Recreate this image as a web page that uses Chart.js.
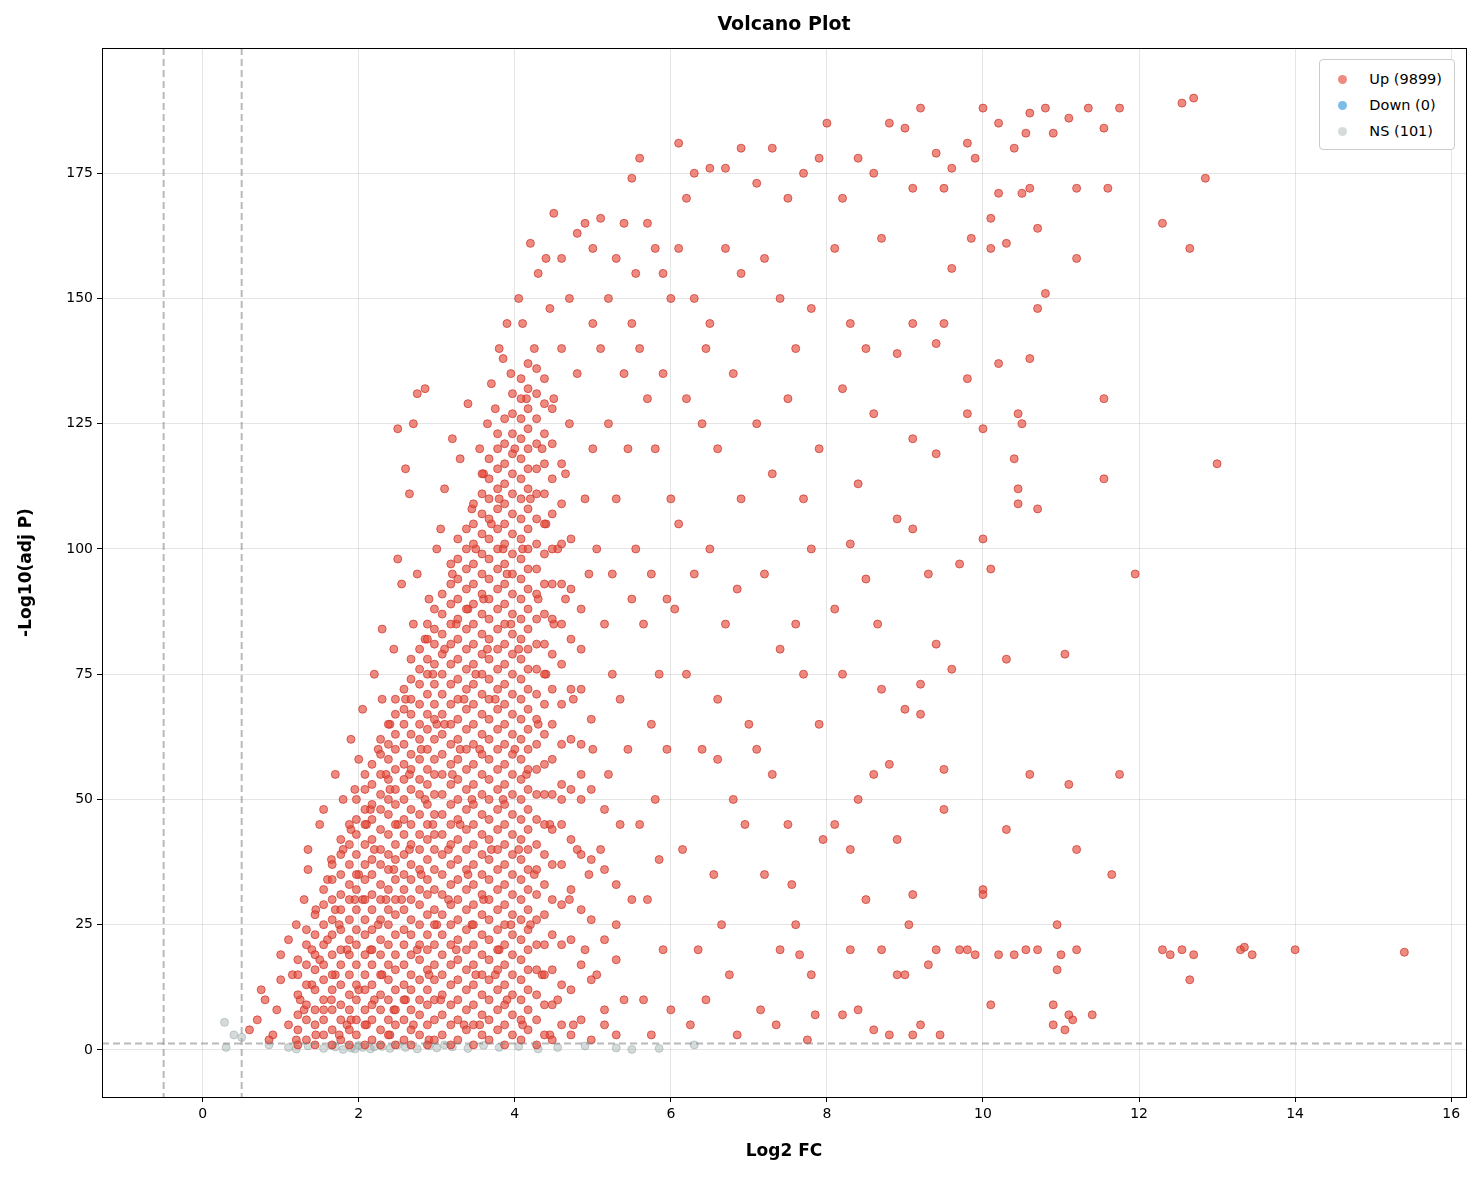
<!DOCTYPE html>
<html>
<head>
<meta charset="utf-8">
<script src="https://cdn.jsdelivr.net/npm/chart.js@4"></script>
<style>
  body { margin: 0; background: #fff; font-family: "DejaVu Sans", sans-serif; }
  #wrap { position: relative; width: 1481px; height: 1180px; }
  #title { position: absolute; top: 12px; left: 102px; width: 1364px; text-align: center; font-weight: bold; font-size: 19px; }
  #legend { position: absolute; top: 59px; right: 26px; background: #fff; border: 1px solid #ccc; border-radius: 4px; padding: 6px 12px 5px 10px; font-size: 14.5px; }
  #legend div { height: 26px; line-height: 26px; }
  #legend span { display: inline-block; width: 9px; height: 9px; border-radius: 50%; margin: 0 22px 0 8px; }
</style>
</head>
<body>
<div id="wrap">
  <canvas id="myChart" width="1481" height="1180"></canvas>
  <div id="title">Volcano Plot</div>
  <div id="legend">
    <div><span style="background:rgba(231,76,60,0.65)"></span>Up (9899)</div>
    <div><span style="background:rgba(52,152,219,0.65)"></span>Down (0)</div>
    <div><span style="background:rgba(149,165,166,0.4)"></span>NS (101)</div>
  </div>
</div>
<script>
// data (a sample of the points)
var upPoints = [
 [0.6,4],[0.7,6],[0.8,10],[0.9,3],[1.0,14],[0.95,8],[0.85,2],[1.0,19],[0.75,12],
 [1.1,5],[1.15,15],[1.2,25],[1.25,10],[1.3,30],[1.35,36],[1.4,20],[1.45,3],[1.5,45],[1.2,2],[1.3,8],[1.4,13],[1.1,22],[1.45,28],[1.5,18],[1.35,40],
 [1.55,48],[1.6,34],[1.65,10],[1.7,55],[1.75,25],[1.8,40],[1.85,5],[1.9,62],[1.95,30],[2.0,58],[1.6,22],[1.7,15],[1.8,50],[1.9,44],[2.0,12],[1.65,38],[1.75,3],[1.85,20],[1.95,52],[2.0,35],[1.55,8],[1.7,28],[1.9,6],
 [2.05,68],[2.1,45],[2.15,20],[2.2,75],[2.25,60],[2.3,84],[2.35,30],[2.4,52],[2.45,8],[2.5,124],[2.5,98],[2.55,93],[2.1,5],[2.2,40],[2.3,15],[2.4,65],[2.45,36],[2.2,10],[2.35,55],[2.15,48],[2.25,25],[2.4,3],[2.05,30],[2.3,70],[2.45,80],[2.5,45],
 [2.6,116],[2.65,111],[2.7,125],[2.75,131],[2.85,132],[2.6,70],[2.7,85],[2.8,60],[2.9,90],[3.0,100],[2.65,40],[2.75,20],[2.85,50],[2.95,75],[2.55,30],[2.6,10],[2.7,5],[2.8,35],[2.9,15],[3.0,65],[2.95,45],[2.85,82],[2.75,95],[2.65,55],[3.0,25],[2.9,2],
 [3.05,104],[3.1,112],[3.2,122],[3.3,118],[3.4,129],[3.45,108],[3.1,80],[3.2,95],[3.3,60],[3.4,88],[3.5,100],[3.15,40],[3.25,20],[3.35,70],[3.45,50],[3.05,10],[3.15,30],[3.25,85],[3.35,5],[3.5,75],[3.4,35],[3.3,45],[3.2,55],[3.1,65],[3.5,15],[3.45,25],
 [3.55,120],[3.6,115],[3.65,125],[3.7,133],[3.75,128],[3.8,140],[3.85,138],[3.9,145],[3.95,135],[3.6,90],[3.7,105],[3.8,110],[3.9,95],[3.55,60],[3.65,80],[3.75,70],[3.85,50],[3.95,85],[3.6,30],[3.7,40],[3.8,20],[3.9,10],[4.0,120],[4.0,60],[3.55,5],[3.75,15],[3.95,25],[3.85,100],
 [4.05,150],[4.1,145],[4.2,161],[4.3,155],[4.4,158],[4.5,167],[4.15,130],[4.25,140],[4.35,120],[4.45,148],[4.1,100],[4.2,110],[4.3,90],[4.4,75],[4.5,130],[4.05,80],[4.15,55],[4.25,35],[4.35,15],[4.45,45],[4.1,5],[4.2,25],[4.3,65],[4.4,105],[4.5,85],[4.05,40],[4.45,3],
 [4.6,158],[4.7,150],[4.8,163],[4.9,165],[5.0,160],[4.6,140],[4.7,125],[4.8,135],[4.9,110],[5.0,145],[4.55,100],[4.65,90],[4.75,70],[4.85,80],[4.95,95],[4.6,50],[4.7,30],[4.8,40],[4.9,20],[5.0,60],[4.55,10],[4.75,5],[4.85,55],[4.95,35],[5.0,120],[4.65,115],
 [5.1,166],[5.2,150],[5.3,158],[5.4,165],[5.5,174],[5.1,140],[5.2,125],[5.3,110],[5.4,135],[5.5,145],[5.05,100],[5.15,85],[5.25,95],[5.35,70],[5.45,60],[5.1,40],[5.2,55],[5.3,25],[5.4,10],[5.5,30],[5.15,5],[5.25,75],[5.35,45],[5.45,120],[5.5,90],[5.05,15],
 [5.6,178],[5.7,165],[5.8,160],[5.9,155],[6.0,150],[5.6,140],[5.7,130],[5.8,120],[5.9,135],[6.0,110],[5.55,100],[5.65,85],[5.75,95],[5.85,75],[5.95,60],[5.6,45],[5.7,30],[5.8,50],[5.9,20],[6.0,8],[5.65,10],[5.75,65],[5.85,38],[5.95,90],[5.55,155],[5.75,3],
 [6.1,181],[6.2,170],[6.3,175],[6.5,176],[6.7,176],[6.9,180],[6.1,160],[6.3,150],[6.5,145],[6.7,160],[6.9,155],[6.2,130],[6.4,125],[6.6,120],[6.8,135],[6.1,105],[6.3,95],[6.5,100],[6.7,85],[6.9,110],[6.2,75],[6.4,60],[6.6,70],[6.8,50],[6.15,40],[6.35,20],[6.55,35],[6.75,15],[6.95,45],[6.25,5],[6.45,10],[6.65,25],[6.85,3],[6.05,88],[6.45,140],[6.85,92],[6.6,58],[7.0,65],
 [7.1,173],[7.3,180],[7.5,170],[7.7,175],[7.9,178],[7.2,158],[7.4,150],[7.6,140],[7.8,148],[7.1,125],[7.3,115],[7.5,130],[7.7,110],[7.9,120],[7.2,95],[7.4,80],[7.6,85],[7.8,100],[7.1,60],[7.3,55],[7.5,45],[7.7,75],[7.9,65],[7.2,35],[7.4,20],[7.6,25],[7.8,15],[7.15,8],[7.35,5],[7.55,33],[7.75,2],[7.95,42],[7.85,7],[7.65,19],
 [8.0,185],[8.2,170],[8.4,178],[8.6,175],[8.8,185],[8.1,160],[8.3,145],[8.5,140],[8.7,162],[8.9,139],[8.2,132],[8.4,113],[8.6,127],[8.1,88],[8.3,101],[8.5,94],[8.7,72],[8.2,75],[8.4,50],[8.6,55],[8.8,57],[8.1,45],[8.3,40],[8.5,30],[8.7,20],[8.9,15],[8.2,7],[8.4,8],[8.6,4],[8.8,3],[8.3,20],[8.9,42],[8.65,85],[8.9,106],
 [9.0,184],[9.2,188],[9.4,179],[9.6,176],[9.8,181],[10.0,188],[9.1,172],[9.5,172],[9.9,178],[9.1,145],[9.4,141],[9.5,145],[9.8,134],[9.1,122],[9.4,119],[9.8,127],[10.0,124],[9.1,104],[9.3,95],[9.7,97],[10.0,102],[9.2,73],[9.4,81],[9.6,76],[9.0,68],[9.2,67],[9.5,56],[9.5,48],[9.1,31],[9.3,17],[9.4,20],[9.7,20],[9.9,19],[9.0,15],[9.2,5],[9.45,3],[9.8,20],[10.0,32],[9.05,25],[9.1,3],[9.6,156],[9.85,162],
 [10.2,185],[10.4,180],[10.6,187],[10.8,188],[11.1,186],[11.35,188],[11.75,188],[10.2,171],[10.6,172],[11.2,172],[11.6,172],[10.1,166],[10.3,161],[10.7,164],[10.1,160],[11.2,158],[10.8,151],[10.7,148],[10.6,138],[10.2,137],[11.55,130],[10.5,125],[10.45,127],[10.4,118],[11.55,114],[10.45,112],[10.7,108],[10.45,109],[10.1,96],[11.95,95],[11.05,79],[10.3,78],[10.6,55],[11.1,53],[11.75,55],[10.3,44],[11.2,40],[11.65,35],[10.0,31],[10.95,25],[10.2,19],[10.4,19],[10.55,20],[10.7,20],[11.0,19],[11.2,20],[10.95,16],[10.9,9],[10.1,9],[10.9,5],[11.05,4],[11.15,6],[11.4,7],[11.1,7],[10.55,183],[10.9,183],[11.55,184],[10.5,171],
 [12.3,165],[12.55,189],[12.7,190],[12.85,174],[12.65,160],[13.0,117],[12.3,20],[12.4,19],[12.55,20],[12.7,19],[12.65,14],[13.3,20],[13.35,20.5],[13.45,19],[14.0,20],[15.4,19.5]
];
// the solid red wedge, read as columns: [log2 FC, list of -log10 P]
var upDenseCols = [
 [1.22,[1,4,7,11,15,18]],
 [1.33,[2,6,9,13,17,21,24]],
 [1.44,[1,5,8,12,16,19,23,27]],
 [1.55,[3,6,10,14,17,21,25,29,32]],
 [1.66,[1,4,8,12,15,19,23,26,30,34,37]],
 [1.77,[2,6,9,13,17,20,24,28,31,35,39,42]],
 [1.88,[1,4,8,11,15,19,22,26,30,33,37,41,45]],
 [1.97,[3,6,10,13,17,21,24,28,32,35,39,43,46,50]],
 [2.08,[1,5,8,12,15,19,23,26,30,34,37,41,45,48,52,55]],
 [2.17,[2,6,9,13,17,20,24,28,31,35,38,42,46,49,53,57]],
 [2.28,[1,4,8,11,15,19,22,26,30,33,37,40,44,48,51,55,59,62]],
 [2.38,[3,6,10,14,17,21,25,28,32,36,39,43,47,50,54,58,61,65]],
 [2.47,[1,5,8,12,16,19,23,27,30,34,38,41,45,49,52,56,60,63,67,70]],
 [2.58,[2,6,10,13,17,21,24,28,32,35,39,43,46,50,54,57,61,65,68,72]],
 [2.67,[1,4,8,12,15,19,23,26,30,34,37,41,45,48,52,56,59,63,67,70,74,78]],
 [2.78,[3,7,10,14,18,21,25,29,32,36,40,43,47,51,54,58,62,65,69,73,76,80]],
 [2.88,[1,5,9,12,16,20,23,27,31,34,38,42,45,49,53,56,60,64,67,71,75,78,82,85]],
 [2.97,[2,6,10,14,17,21,25,28,32,36,40,43,47,51,55,58,62,66,69,73,77,81,84,88]],
 [3.07,[3,7,11,15,19,23,27,31,35,39,43,47,51,55,59,63,67,71,75,79,83,87,91]],
 [3.18,[1,5,9,13,17,21,25,29,33,37,41,45,49,53,57,61,65,69,73,77,81,85,89,93,97]],
 [3.27,[2,6,10,14,18,22,26,30,34,38,42,46,50,54,58,62,66,70,74,78,82,86,90,94,98,102]],
 [3.38,[4,8,12,16,20,24,28,32,36,40,44,48,52,56,60,64,68,72,76,80,84,88,92,96,100,104]],
 [3.47,[1,5,9,13,17,21,25,29,33,37,41,45,49,53,57,61,65,69,73,77,81,85,89,93,97,101,105,109]],
 [3.58,[3,7,11,15,19,23,27,31,35,39,43,47,51,55,59,63,67,71,75,79,83,87,91,95,99,103,107,111,115]],
 [3.67,[2,6,10,14,18,22,26,30,34,38,42,46,50,54,58,62,66,70,74,78,82,86,90,94,98,102,106,110,114,118]],
 [3.78,[4,8,12,16,20,24,28,32,36,40,44,48,52,56,60,64,68,72,76,80,84,88,92,96,100,104,108,112,116,120,123]],
 [3.87,[1,5,9,13,17,21,25,29,33,37,41,45,49,53,57,61,65,69,73,77,81,85,89,93,97,101,105,109,113,117,121,126]],
 [3.97,[3,7,11,15,19,23,27,31,35,39,43,47,51,55,59,63,67,71,75,79,83,87,91,95,99,103,107,111,115,119,123,127,131]],
 [4.08,[2,6,10,14,18,22,26,30,34,38,42,46,50,54,58,62,66,70,74,78,82,86,90,94,98,102,106,110,114,118,122,126,130,134]],
 [4.17,[4,8,12,16,20,24,28,32,36,40,44,48,52,56,60,64,68,72,76,80,84,88,92,96,100,104,108,112,116,120,124,128,132,137]],
 [4.28,[1,6,11,16,21,26,31,36,41,46,51,56,61,66,71,76,81,86,91,96,101,106,111,116,121,126,131,136]],
 [4.38,[3,9,15,21,27,33,39,45,51,57,63,69,75,81,87,93,99,105,111,117,123,129,134]],
 [4.48,[2,9,16,23,30,37,44,51,58,65,72,79,86,93,100,107,114,121,128]],
 [4.6,[5,13,21,29,37,45,53,61,69,77,85,93,101,109,117]],
 [4.72,[3,12,22,32,42,52,62,72,82,92,102]],
 [4.85,[6,17,28,39,50,61,72,88]],
 [4.98,[2,14,26,38,52,66]],
 [5.15,[8,22,36,48]],
 [5.3,[3,18,33]]
];
var downPoints = [];
var nsPoints = [
 [0.28,5.5],[0.3,0.5],[0.4,3],[0.5,2.5],[0.85,1],[1.1,0.5],[1.2,0.2],[1.35,0.8],[1.55,0.3],[1.7,0.6],[1.8,0.1],[1.9,0.4],[2.0,0.9],[2.15,0.2],[2.3,0.7],[2.4,0.3],[2.5,1.0],[2.6,0.5],[2.75,0.2],[2.9,0.8],[3.0,0.4],[3.2,0.6],[3.4,0.3],[3.6,0.9],[3.8,0.5],[4.05,0.7],[4.3,0.2],[4.55,0.5],[4.9,0.8],[5.3,0.4],[5.5,0.1],[5.85,0.3],[6.3,1.0],[1.95,0.2],[2.2,0.6],[1.65,0.9],[3.1,1.0],[2.05,0.5]
];
var xTicks = [0, 2, 4, 6, 8, 10, 12, 14, 16];
var yTicks = [0, 25, 50, 75, 100, 125, 150, 175];
var fcCut = 0.5;
var pCut = 1.3;

function toXY(list) {
  return list.map(function (p) { return { x: p[0], y: p[1] }; });
}
var upData = toXY(upPoints);
upDenseCols.forEach(function (c) {
  c[1].forEach(function (y) { upData.push({ x: c[0], y: y }); });
});

// dashed threshold lines and the black frame
var extras = {
  id: 'extras',
  beforeDatasetsDraw: function (chart) {
    var ctx = chart.ctx, a = chart.chartArea, sx = chart.scales.x;
    ctx.save();
    ctx.strokeStyle = 'rgba(128,128,128,0.55)';
    ctx.lineWidth = 2;
    ctx.setLineDash([7, 4]);
    [-fcCut, fcCut].forEach(function (v) {
      var px = sx.getPixelForValue(v);
      ctx.beginPath(); ctx.moveTo(px, a.top); ctx.lineTo(px, a.bottom); ctx.stroke();
    });
    ctx.restore();
  },
  afterDatasetsDraw: function (chart) {
    var ctx = chart.ctx, a = chart.chartArea, sy = chart.scales.y;
    ctx.save();
    ctx.strokeStyle = 'rgba(128,128,128,0.55)';
    ctx.lineWidth = 2;
    ctx.setLineDash([7, 4]);
    var py = sy.getPixelForValue(pCut);
    ctx.beginPath(); ctx.moveTo(a.left, py); ctx.lineTo(a.right, py); ctx.stroke();
    ctx.restore();
  },
  afterDraw: function (chart) {
    var ctx = chart.ctx, a = chart.chartArea;
    ctx.save();
    ctx.strokeStyle = '#000';
    ctx.lineWidth = 1;
    ctx.strokeRect(a.left + 0.5, a.top + 0.5, a.right - a.left, a.bottom - a.top);
    ctx.restore();
  }
};

var config = {
  type: 'scatter',
  data: {
    datasets: [
      { label: 'Up (9899)', data: upData, backgroundColor: 'rgba(231,76,60,0.65)', borderColor: 'rgba(200,50,40,0.7)', borderWidth: 1, pointRadius: 4 },
      { label: 'Down (0)', data: downPoints, backgroundColor: 'rgba(52,152,219,0.65)', pointRadius: 4 },
      { label: 'NS (101)', data: toXY(nsPoints), backgroundColor: 'rgba(149,165,166,0.4)', borderColor: 'rgba(149,165,166,0.5)', borderWidth: 1, pointRadius: 4 }
    ]
  },
  options: {
    responsive: false,
    animation: false,
    layout: { padding: { top: 48, right: 15, left: 0, bottom: 0 } },
    plugins: { legend: { display: false }, tooltip: { enabled: false } },
    scales: {
      x: {
        type: 'linear', min: -1.29, max: 16.19,
        afterBuildTicks: function (s) { s.ticks = xTicks.map(function (v) { return { value: v }; }); },
        afterFit: function (s) { s.height = 83; },
        grid: { color: 'rgba(0,0,0,0.1)', drawTicks: true, tickLength: 5, tickColor: '#000' },
        border: { display: false },
        ticks: { color: '#000', font: { family: 'DejaVu Sans', size: 14 }, padding: 4 },
        title: { display: true, text: 'Log2 FC', color: '#000', padding: { top: 6, bottom: 18 }, font: { family: 'DejaVu Sans', size: 17, weight: 'bold' } }
      },
      y: {
        type: 'linear', min: -9.4, max: 200,
        afterBuildTicks: function (s) { s.ticks = yTicks.map(function (v) { return { value: v }; }); },
        afterFit: function (s) { s.width = 102; },
        grid: { color: 'rgba(0,0,0,0.1)', drawTicks: true, tickLength: 5, tickColor: '#000' },
        border: { display: false },
        ticks: { color: '#000', font: { family: 'DejaVu Sans', size: 14 }, padding: 4 },
        title: { display: true, text: '-Log10(adj P)', color: '#000', padding: { top: 16, bottom: 0 }, font: { family: 'DejaVu Sans', size: 17, weight: 'bold' } }
      }
    }
  },
  plugins: [extras]
};

new Chart(document.getElementById('myChart'), config);
</script>
</body>
</html>
